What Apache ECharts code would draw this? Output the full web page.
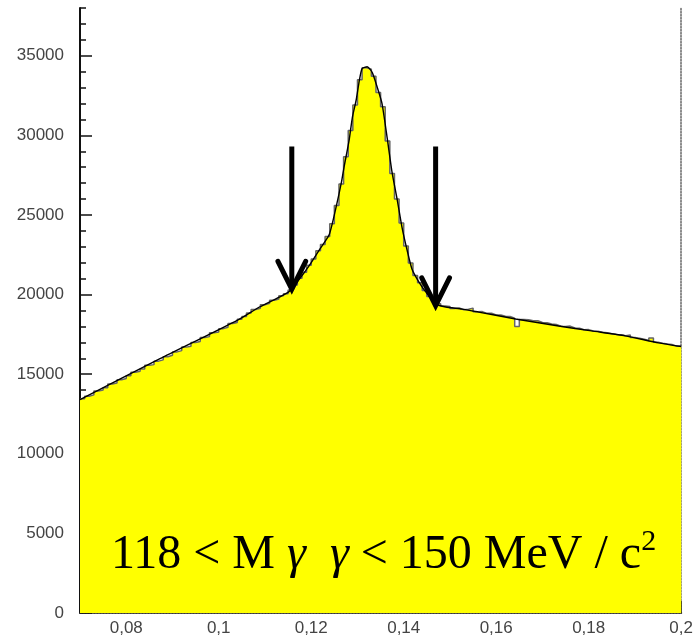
<!DOCTYPE html>
<html>
<head>
<meta charset="utf-8">
<script src="https://cdn.jsdelivr.net/npm/echarts@6/dist/echarts.min.js"></script>
<style>
  html, body { margin: 0; padding: 0; background: #fff; }
  #char { width: 696px; height: 637px; }
</style>
</head>
<body>
<div id="char"></div>
<script>
// histogram: 1 MeV bins from 0.07 to 0.2 GeV
var binStart = 0.07;
var binWidth = 0.001;
var counts = [
  13450, 13620, 13700, 13950, 14010, 14150, 14380, 14440, 14650, 14730,
  14900, 15120, 15180, 15330, 15560, 15600, 15820, 15900, 16100, 16190,
  16400, 16480, 16700, 16760, 16990, 17050, 17300, 17360, 17600, 17650,
  17860, 17950, 18180, 18250, 18450, 18620, 18840, 19060, 19140, 19360,
  19450, 19650, 19720, 19920, 20050, 20290, 20600, 21020, 21400, 21850,
  22230, 22760, 23150, 23650, 24450, 25600, 26950, 28650, 30300, 31900,
  33500, 34250, 34150, 33720, 32700, 31800, 29650, 27600, 26000, 24500,
  23050, 21980, 21200, 20750, 20250, 19880, 19580, 19420, 19280, 19250,
  19120, 19160, 19050, 19080, 19150, 18920, 18930, 18820, 18830, 18720,
  18720, 18640, 18620, 18520, 18000, 18430, 18420, 18350, 18360, 18250,
  18230, 18150, 18120, 18010, 17990, 18020, 17900, 17880, 17790, 17800,
  17710, 17690, 17630, 17600, 17540, 17500, 17470, 17420, 17460, 17300,
  17250, 17200, 17120, 17280, 17010, 16950, 16900, 16870, 16760, 16770
];

// fitted curve drawn over the histogram
var fitX = [0.07, 0.0873, 0.1041, 0.1088, 0.1131, 0.1153, 0.1174, 0.1196, 0.1218, 0.1239,
  0.1254, 0.1265, 0.1271, 0.1282, 0.1289, 0.1297, 0.1304, 0.131, 0.1321, 0.1332,
  0.1343, 0.1353, 0.1364, 0.1375, 0.1386, 0.1396, 0.1407, 0.1418, 0.1433, 0.1448,
  0.147, 0.1491, 0.1526, 0.1562, 0.1642, 0.1735, 0.1806, 0.1879, 0.1951, 0.2];
var fitY = [13400, 15970, 18400, 19220, 19840, 20210, 20960, 21840, 22830, 23770,
  25520, 27010, 28010, 29700, 31130, 32190, 33440, 34190, 34310, 33940,
  33000, 32010, 29890, 27640, 25950, 24270, 22830, 21590, 20780, 20150,
  19400, 19220, 19090, 18900, 18470, 18030, 17720, 17410, 16970, 16740];

// arrows marking the mass window
var arrowX = [0.1158, 0.1469];
var arrowTop = [29300, 29300];
var arrowTip = [20340, 19300];

var yMajor = [0, 5000, 10000, 15000, 20000, 25000, 30000, 35000];
var yMinor = [];
for (var k = 0; k <= 38000; k += 1000) yMinor.push(k);
var xMajor = [0.08, 0.1, 0.12, 0.14, 0.16, 0.18, 0.2];
var xMinor = [];
for (var m = 0; m <= 26; m++) xMinor.push(+(0.07 + m * 0.005).toFixed(3));

var histData = counts.map(function (v, i) { return [+(binStart + i * binWidth).toFixed(4), v]; });
histData.push([+(binStart + counts.length * binWidth).toFixed(4), counts[counts.length - 1]]);
var fitData = fitX.map(function (x, i) { return [x, fitY[i]]; });

var series = [
  {
    type: 'line',
    step: 'end',
    symbol: 'none',
    data: histData,
    lineStyle: { color: '#666', width: 1.5 },
    areaStyle: { color: '#ffff00', opacity: 1 },
    z: 2
  },
  {
    type: 'line',
    smooth: 0.2,
    symbol: 'none',
    data: fitData,
    lineStyle: { color: '#000', width: 1.4 },
    z: 3
  }
];
arrowX.forEach(function (x, i) {
  var headW = 0.003, headH = 1750;
  series.push({
    type: 'line', symbol: 'none', z: 5,
    data: [[x, arrowTop[i]], [x, arrowTip[i]]],
    lineStyle: { color: '#000', width: 5, cap: 'butt' }
  });
  series.push({
    type: 'line', symbol: 'none', z: 5,
    data: [[x - headW, arrowTip[i] + headH], [x, arrowTip[i]], [x + headW, arrowTip[i] + headH]],
    lineStyle: { color: '#000', width: 5, cap: 'round', join: 'miter' }
  });
});

var chart = echarts.init(document.getElementById('char'));
chart.setOption({
  animation: false,
  grid: { left: 80, top: 8, width: 604, height: 608 },
  xAxis: [
    {
      type: 'value', min: 0.07, max: 0.2, position: 'bottom',
      axisLine: { lineStyle: { color: '#111', width: 2 } },
      axisTick: { inside: true, length: 12, customValues: xMajor, lineStyle: { color: '#111', width: 1.5 } },
      axisLabel: {
        customValues: xMajor, margin: 7, color: '#444', fontSize: 17,
        fontFamily: 'Liberation Sans',
        formatter: function (v) { return String(+v.toFixed(2)).replace('.', ','); }
      },
      splitLine: { show: false }
    },
    {
      type: 'value', min: 0.07, max: 0.2, position: 'bottom',
      axisLine: { show: false },
      axisTick: { inside: true, length: 6, customValues: xMinor, lineStyle: { color: '#111', width: 1.5 } },
      axisLabel: { show: false },
      splitLine: { show: false }
    },
    {
      type: 'value', min: 0.07, max: 0.2, position: 'top',
      axisLine: { lineStyle: { color: '#666', width: 1.5, type: 'dotted' } },
      axisTick: { show: false }, axisLabel: { show: false }, splitLine: { show: false }
    }
  ],
  yAxis: [
    {
      type: 'value', min: 0, max: 38000, position: 'left',
      axisLine: { show: true, lineStyle: { color: '#111', width: 2 } },
      axisTick: { show: true, inside: true, length: 12, customValues: yMajor, lineStyle: { color: '#111', width: 1.5 } },
      axisLabel: {
        customValues: yMajor, margin: 16, color: '#444', fontSize: 17, fontFamily: 'Liberation Sans',
        formatter: function (v) { return String(v); }
      },
      splitLine: { show: false }
    },
    {
      type: 'value', min: 0, max: 38000, position: 'left',
      axisLine: { show: false },
      axisTick: { show: true, inside: true, length: 6, customValues: yMinor, lineStyle: { color: '#111', width: 1.5 } },
      axisLabel: { show: false },
      splitLine: { show: false }
    },
    {
      type: 'value', min: 0, max: 38000, position: 'right',
      axisLine: { show: true, lineStyle: { color: '#666', width: 1.5, type: 'dotted' } },
      axisTick: { show: false }, axisLabel: { show: false }, splitLine: { show: false }
    }
  ],
  title: {
    left: 106, top: 522,
    text: '{a|118 < M }{g|γ}{a|  }{g|γ}{a| < 150 MeV / c}{s|2}',
    textStyle: {
      rich: {
        a: { fontFamily: 'Liberation Serif', fontWeight: 'normal', fontSize: 48, color: '#000', lineHeight: 56 },
        g: { fontFamily: 'Liberation Serif', fontWeight: 'normal', fontStyle: 'italic', fontSize: 48, color: '#000', lineHeight: 56 },
        s: { fontFamily: 'Liberation Serif', fontWeight: 'normal', fontSize: 30, color: '#000', verticalAlign: 'top', lineHeight: 40 }
      }
    }
  },
  series: series
});
</script>
</body>
</html>
